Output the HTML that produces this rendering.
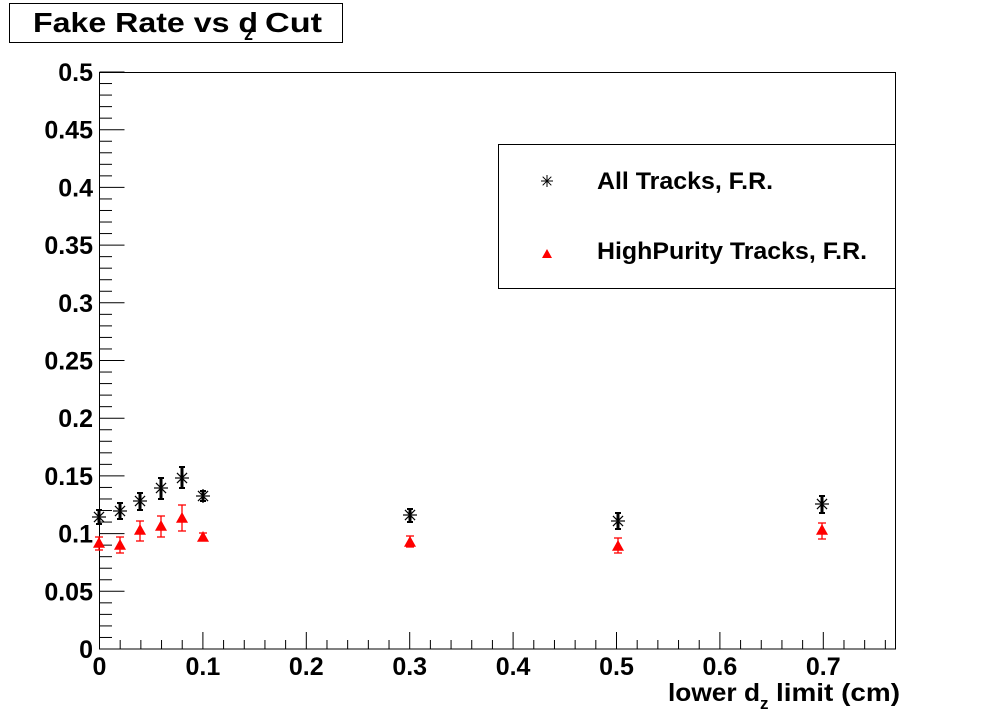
<!DOCTYPE html>
<html><head><meta charset="utf-8"><style>
html,body{margin:0;padding:0;background:#fff;}
svg{display:block;font-family:"Liberation Sans",Arial,sans-serif;font-weight:bold;}
</style></head><body>
<svg id="s" width="996" height="722" xmlns="http://www.w3.org/2000/svg">
<rect x="0" y="0" width="996" height="722" fill="#fff"/>
<rect x="9.5" y="3.5" width="333" height="39" fill="#fff" stroke="#000" stroke-width="1"/>
<text x="33" y="32" font-size="28" textLength="225" lengthAdjust="spacingAndGlyphs">Fake Rate vs d</text>
<text x="244" y="40" font-size="18">z</text>
<text x="265" y="32" font-size="28" textLength="57" lengthAdjust="spacingAndGlyphs">Cut</text>
<rect x="99.5" y="72.5" width="796" height="576.5" fill="none" stroke="#000" stroke-width="1"/>
<g id="ticks" stroke="#000" stroke-width="1"></g>
<g id="labels" font-size="25"></g>
<text x="668" y="701" font-size="25" textLength="92" lengthAdjust="spacingAndGlyphs">lower d</text>
<text x="760" y="709" font-size="17">z</text>
<text x="776" y="701" font-size="25" textLength="124" lengthAdjust="spacingAndGlyphs">limit (cm)</text>
<rect x="498.5" y="144.5" width="397" height="144" fill="#fff" stroke="#000" stroke-width="1"/>
<g id="leg"></g>
<text x="597" y="189" font-size="24" textLength="176" lengthAdjust="spacingAndGlyphs">All Tracks, F.R.</text>
<text x="597" y="259" font-size="24" textLength="270" lengthAdjust="spacingAndGlyphs">HighPurity Tracks, F.R.</text>
<g id="data"></g>
</svg>
<script>
var NS="http://www.w3.org/2000/svg";
function el(p,t,a){var e=document.createElementNS(NS,t);for(var k in a)e.setAttribute(k,a[k]);p.appendChild(e);return e;}
var T=document.getElementById('ticks'),L=document.getElementById('labels');
var X0=99.5,XS=1034,Y0=649,YS=1154;
for(var i=0;i<=38;i++){var v=i*0.02;var x=X0+v*XS;if(x>896)break;var maj=(i%5==0);
 el(T,'line',{x1:x,y1:Y0,x2:x,y2:Y0-(maj?17:9)});
 if(maj){var t=el(L,'text',{x:x,y:Y0+26,'text-anchor':'middle'});t.textContent=(i==0?'0':(v).toFixed(1));}}
for(var i=0;i<=50;i++){var v=i*0.01;var y=Y0-v*YS;var maj=(i%5==0);
 el(T,'line',{x1:X0,y1:y,x2:X0+(maj?25:12.5),y2:y});
 if(maj){var t=el(L,'text',{x:93,y:y+9,'text-anchor':'end'});var s=(i==0?'0':String(+v.toFixed(2)));t.textContent=s;}}
var D=document.getElementById('data');
function star(g,x,y,r,w){el(g,'line',{x1:x-r,y1:y,x2:x+r,y2:y,stroke:'#000','stroke-width':w});el(g,'line',{x1:x,y1:y-r,x2:x,y2:y+r,stroke:'#000','stroke-width':w});
 var d=r*0.72;el(g,'line',{x1:x-d,y1:y-d,x2:x+d,y2:y+d,stroke:'#000','stroke-width':w});el(g,'line',{x1:x-d,y1:y+d,x2:x+d,y2:y-d,stroke:'#000','stroke-width':w});}
function tri(g,x,y,r){el(g,'polygon',{points:(x-r)+','+(y+r*0.8)+' '+(x+r)+','+(y+r*0.8)+' '+x+','+(y-r),fill:'#f00'});}
var blk=[[99,517,510,524],[120,511,503,519],[140,501,493,510],[161,488,478,499],[182,478,467,488],[203,496,491,501],[410,515,509,522],[618,521,513,529],[822,504,496,513]];
var red=[[99,543,537,550],[120,545,537,553],[140,530,521,541],[161,526,516,537],[182,518,505,531],[203,537,533,540],[410,542,536,547],[618,546,538,553],[822,530,523,539]];
blk.forEach(function(p){el(D,'line',{x1:p[0],y1:p[2],x2:p[0],y2:p[3],stroke:'#000','stroke-width':3});
 el(D,'line',{x1:p[0]-3,y1:p[2],x2:p[0]+3,y2:p[2],stroke:'#000','stroke-width':2});el(D,'line',{x1:p[0]-3,y1:p[3],x2:p[0]+3,y2:p[3],stroke:'#000','stroke-width':2});
 star(D,p[0],p[1],7,1.2);});
red.forEach(function(p){el(D,'line',{x1:p[0],y1:p[2],x2:p[0],y2:p[3],stroke:'#f00','stroke-width':1.3});
 el(D,'line',{x1:p[0]-4,y1:p[2],x2:p[0]+4,y2:p[2],stroke:'#f00','stroke-width':1.3});el(D,'line',{x1:p[0]-4,y1:p[3],x2:p[0]+4,y2:p[3],stroke:'#f00','stroke-width':1.3});
 tri(D,p[0],p[1],6);});
var G=document.getElementById('leg');star(G,547,181,6,1);tri(G,547,254,5);
</script>
</body></html>
